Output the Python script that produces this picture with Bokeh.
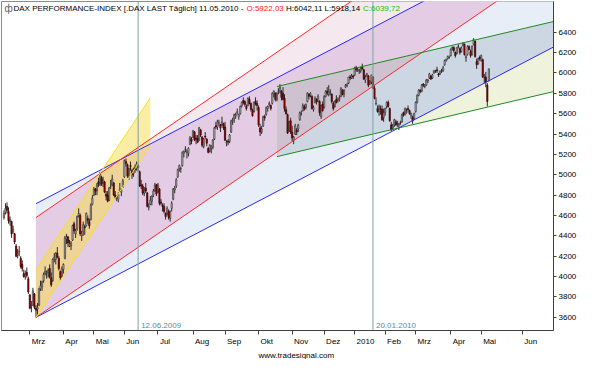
from bokeh.plotting import figure
from bokeh.models import Range1d, FixedTicker, Label, Span, CustomJSTickFormatter, Title
from bokeh.embed import file_html
from bokeh.resources import INLINE

# ---------------- data: DAX daily OHLC, 05.02.2009 .. 10.05.2010 (bar index 0..318) ----------------
OPEN = [
    4580,4630,4690,4640,4540,4540,4440,4420,4300,4210,4240,4180,4120,4030,4000,4040,3980,  # Feb 09
    3820,3700,3720,3830,3690,3680,3720,3880,3900,3960,4030,4030,4040,4080,3990,3960,4170,4170,4230,4180,4050,4000,  # Mar
    4070,4180,4370,4390,4300,4300,4360,4520,4420,4470,4600,4600,4400,4440,4490,4500,4570,4540,4560,4710,  # Apr
    4800,4860,4840,4930,4900,4970,4920,4930,4810,4800,4750,4890,4900,4920,4800,4770,4760,4840,4830,4880,  # May
    4980,5130,5100,4980,5090,5040,5010,5070,5060,5090,5030,4900,4890,4820,4870,4820,4680,4710,4740,4800,4850,4900,  # Jun
    4830,4860,4730,4700,4690,4620,4620,4640,4570,4670,4760,4850,4890,4980,5060,5060,5090,5210,5250,5220,5210,5300,5350,  # Jul
    5370,5420,5360,5360,5340,5440,5370,5280,5380,5350,5260,5230,5260,5270,5350,5480,5470,5510,5490,5490,5500,  # Aug
    5470,5310,5330,5330,5420,5530,5550,5580,5610,5570,5600,5680,5730,5720,5670,5680,5740,5700,5630,5620,5720,5700,  # Sep
    5660,5460,5420,5480,5570,5590,5650,5690,5680,5700,5790,5800,5740,5820,5820,5820,5800,5750,5640,5590,5440,5530,  # Oct
    5420,5340,5400,5440,5450,5540,5600,5630,5670,5660,5720,5790,5780,5770,5640,5710,5740,5720,5720,5570,5690,  # Nov
    5660,5770,5820,5790,5810,5790,5700,5670,5740,5730,5740,5770,5830,5790,5860,5880,5900,5960,5950,5970,  # Dec
    5980,6050,6030,6020,6020,6060,6030,5930,5980,5970,5900,5910,5960,5850,5700,5650,5620,5650,5640,5560,  # Jan 10
    5610,5670,5710,5650,5490,5460,5490,5520,5500,5490,5510,5520,5610,5590,5610,5650,5630,5580,5560,5550,  # Feb
    5620,5710,5780,5830,5820,5890,5870,5880,5920,5950,5970,5950,6000,6020,6030,5990,5990,6020,6020,6080,6120,6140,6150,  # Mar
    6170,6240,6250,6200,6190,6260,6240,6210,6270,6280,6150,6180,6260,6210,6180,6280,6310,6110,6090,6150,  # Apr
    6120,6130,5950,5960,5880,5922.03,  # May
]
HIGH = [
    4650,4720,4730,4680,4590,4550,4500,4430,4320,4270,4300,4200,4160,4070,4060,4090,4000,
    3830,3760,3890,3840,3720,3740,3890,3960,3960,4040,4100,4060,4080,4120,4040,4180,4230,4240,4290,4200,4060,4100,
    4130,4400,4420,4400,4360,4350,4510,4540,4470,4600,4670,4620,4450,4540,4510,4630,4600,4570,4720,4800,
    4880,4870,4920,4970,5030,4990,4980,4940,4840,4840,4880,4950,5000,4930,4840,4800,4830,4920,4870,4960,
    5150,5160,5110,5070,5130,5060,5070,5100,5130,5110,5040,4950,4910,4880,4920,4830,4720,4790,4800,4860,4920,4910,
    4920,4870,4760,4720,4720,4630,4690,4660,4650,4740,4870,4890,4970,5060,5100,5080,5230,5240,5280,5250,5270,5380,5370,
    5440,5430,5390,5390,5470,5450,5380,5360,5420,5360,5270,5300,5290,5350,5470,5520,5540,5540,5500,5570,5510,
    5520,5340,5350,5400,5540,5560,5600,5610,5650,5600,5680,5720,5760,5730,5690,5760,5770,5710,5650,5720,5760,5730,
    5680,5500,5480,5580,5590,5670,5680,5720,5690,5810,5830,5810,5810,5850,5890,5830,5860,5790,5670,5600,5530,5560,
    5480,5380,5500,5460,5500,5620,5630,5700,5690,5700,5810,5800,5810,5780,5680,5770,5750,5790,5730,5690,5720,
    5780,5830,5860,5880,5840,5800,5720,5730,5780,5760,5780,5860,5840,5840,5890,5900,5960,5980,5990,5980,
    6060,6070,6050,6040,6060,6090,6040,5980,6000,5980,5930,5980,5970,5880,5760,5680,5690,5680,5680,5650,
    5660,5720,5730,5660,5520,5500,5550,5540,5530,5510,5530,5600,5620,5660,5650,5680,5640,5610,5580,5610,
    5720,5790,5840,5840,5890,5900,5890,5940,5940,6000,5980,5990,6030,6030,6060,6000,6020,6040,6070,6130,6140,6170,6170,
    6240,6260,6260,6210,6250,6280,6250,6260,6300,6290,6180,6270,6270,6230,6270,6340,6320,6140,6150,6170,
    6180,6140,5990,6010,5900,6042.11,
]
LOW = [
    4560,4610,4620,4520,4500,4380,4420,4320,4190,4180,4200,4080,4050,3990,3970,3990,3830,
    3680,3650,3710,3680,3600,3620,3710,3860,3860,3940,4010,3980,3990,3980,3900,3950,4140,4120,4180,4060,3960,3990,
    4030,4170,4320,4290,4290,4260,4350,4420,4380,4450,4580,4400,4350,4400,4410,4490,4520,4470,4550,4700,
    4790,4800,4800,4880,4890,4890,4880,4820,4750,4730,4740,4860,4890,4790,4760,4740,4730,4830,4790,4870,
    4970,5080,4970,4950,5040,4960,4980,5020,5040,5030,4880,4860,4800,4790,4820,4680,4650,4700,4700,4780,4830,4790,
    4820,4700,4700,4640,4620,4560,4600,4560,4540,4640,4750,4820,4870,4970,5030,5020,5080,5170,5220,5160,5180,5290,5300,
    5360,5330,5300,5310,5330,5370,5270,5260,5350,5280,5210,5220,5210,5250,5340,5450,5440,5480,5420,5480,5440,
    5330,5280,5290,5310,5410,5490,5510,5550,5590,5540,5590,5660,5690,5670,5630,5670,5690,5620,5570,5610,5680,5630,
    5470,5380,5400,5470,5530,5580,5620,5670,5630,5690,5760,5720,5720,5790,5800,5730,5730,5620,5590,5400,5420,5400,
    5330,5300,5390,5390,5420,5530,5580,5620,5630,5640,5710,5740,5760,5640,5620,5700,5690,5710,5580,5550,5620,
    5650,5760,5780,5770,5780,5700,5630,5660,5700,5710,5720,5760,5780,5760,5850,5860,5890,5930,5940,5940,
    5970,6010,6010,5990,6000,6030,5930,5900,5960,5860,5880,5890,5840,5740,5680,5610,5580,5590,5530,5520,
    5580,5650,5660,5520,5430,5440,5470,5480,5470,5440,5490,5510,5570,5580,5600,5620,5590,5550,5500,5540,
    5610,5700,5770,5800,5810,5860,5850,5870,5900,5940,5930,5940,5990,6000,6000,5960,5980,6000,6010,6070,6110,6130,6140,
    6160,6220,6200,6150,6180,6240,6180,6200,6260,6170,6110,6170,6220,6150,6170,6270,6150,6040,6080,6120,
    6110,5950,5900,5860,5670,5918.14,
]
CLOSE = [
    4620,4670,4650,4550,4560,4420,4460,4340,4200,4230,4250,4100,4080,4000,4020,4010,3850,
    3690,3700,3860,3700,3670,3700,3880,3910,3950,4020,4050,4030,4060,4000,3920,4170,4190,4230,4190,4080,3990,4080,
    4120,4380,4390,4330,4320,4330,4500,4450,4450,4590,4620,4420,4420,4510,4480,4620,4550,4500,4700,4770,
    4860,4840,4900,4910,5010,4910,4950,4830,4790,4740,4870,4890,4960,4800,4780,4770,4810,4860,4850,4940,
    5140,5110,4990,5060,5080,5000,5050,5050,5110,5070,4890,4890,4820,4840,4840,4690,4690,4750,4790,4840,4900,4810,
    4900,4720,4720,4690,4640,4590,4670,4580,4640,4720,4860,4870,4950,5050,5090,5060,5220,5230,5250,5230,5260,5360,5330,
    5430,5340,5350,5320,5460,5390,5290,5350,5370,5310,5220,5290,5280,5340,5460,5470,5520,5510,5460,5520,5460,
    5340,5320,5320,5390,5530,5540,5590,5590,5620,5590,5670,5710,5710,5690,5650,5750,5700,5640,5580,5710,5700,5680,
    5490,5420,5450,5570,5560,5660,5670,5700,5650,5800,5820,5740,5800,5820,5860,5760,5740,5650,5600,5410,5520,5420,
    5360,5370,5480,5420,5490,5610,5600,5680,5650,5690,5800,5770,5800,5650,5660,5750,5720,5770,5610,5680,5630,
    5770,5820,5800,5820,5810,5720,5650,5720,5710,5740,5750,5850,5790,5830,5880,5880,5960,5950,5970,5960,
    6050,6030,6030,6020,6040,6040,5940,5960,5990,5880,5920,5980,5850,5750,5700,5620,5670,5640,5540,5610,
    5650,5710,5670,5530,5440,5480,5540,5490,5500,5500,5510,5590,5590,5650,5620,5640,5600,5600,5530,5600,
    5710,5780,5830,5820,5880,5880,5870,5930,5930,5990,5940,5980,6020,6020,6020,5980,6020,6020,6050,6120,6130,6160,6150,
    6230,6250,6220,6170,6250,6260,6200,6250,6290,6180,6160,6260,6230,6170,6260,6330,6160,6080,6140,6140,
    6170,5960,5950,5910,5720,6039.72,
]

MONTH_TICKS = [17, 39, 59, 79, 101, 124, 145, 167, 189, 210, 230, 250, 270, 293, 313, 340]
MONTH_LABELS = ["Mrz", "Apr", "Mai", "Jun", "Jul", "Aug", "Sep", "Okt", "Nov", "Dez",
                "2010", "Feb", "Mrz", "Apr", "Mai", "Jun"]
Y_TICKS = [3600, 3800, 4000, 4200, 4400, 4600, 4800, 5000, 5200, 5400, 5600, 5800, 6000, 6200, 6400]

# drawing tools (bar index / index points)
ANCHOR_BAR, ANCHOR_LOW = 21, 3600
BLUE_SLOPE, BLUE_WIDTH = 7.82, 1116
RED_SLOPE, RED_WIDTH = 10.27, 980
YEL_SLOPE, YEL_WIDTH, YEL_END = 22.48, 470, 96
GRN_BAR, GRN_LOW, GRN_SLOPE, GRN_WIDTH = 179, 5178, 3.52, 688
MARK_BARS = [88, 242]
MARK_TEXTS = ["12.06.2009", "20.01.2010"]

TITLE_PARTS = [("DAX PERFORMANCE-INDEX [.DAX LAST Täglich] 11.05.2010 -", "#000000"),
               ("O:5922,03", "#ff2020"),
               ("H:6042,11 L:5918,14", "#000000"),
               ("C:6039,72", "#10c010")]
FOOTER = "www.tradesignal.com"

# ---------------- layout ----------------
W, H = 579, 359
BL, BR, BT = 1, 23, 1
XR0, XR1 = -1.6, 360.4
YR0, YR1 = 3471, 6701
FW = W - BL - BR
PXB = FW / (XR1 - XR0)
FONT = "Liberation Sans"
FS = 8.0

AW = {' ': 278, '-': 333, '[': 278, ']': 278, '.': 278, ',': 278, ':': 278,
      'A': 667, 'C': 722, 'D': 722, 'E': 667, 'F': 611, 'H': 722, 'I': 278, 'J': 500, 'L': 556,
      'M': 833, 'N': 722, 'O': 778, 'P': 667, 'R': 722, 'S': 667, 'T': 611, 'X': 667,
      'a': 556, 'b': 556, 'c': 500, 'e': 556, 'g': 556, 'h': 556, 'i': 222, 'k': 500, 'l': 222,
      'n': 556, 'o': 556, 'p': 556, 'r': 333, 't': 278, 'u': 556, 'v': 500, 'z': 500, 'ä': 556}


def tw(s, fs=FS):
    return sum(AW.get(ch, 556) for ch in s) * fs / 1000.0


p = figure(width=W, height=H, x_range=Range1d(XR0, XR1), y_range=Range1d(YR0, YR1),
           y_axis_location="right", output_backend="svg", toolbar_location=None,
           min_border_left=BL, min_border_right=BR, min_border_top=BT, min_border_bottom=0)
p.grid.visible = False
p.outline_line_color = "#8c8c8c"
p.background_fill_color = "white"
p.border_fill_color = "white"


# ---------------- channel fills (painter's order) ----------------
def inside(P, A, B):
    return (B[0] - A[0]) * (P[1] - A[1]) - (B[1] - A[1]) * (P[0] - A[0]) >= 0


def inter(S, E, A, B):
    x1, y1 = S; x2, y2 = E; x3, y3 = A; x4, y4 = B
    den = (x1 - x2) * (y3 - y4) - (y1 - y2) * (x3 - x4)
    t = ((x1 - x3) * (y3 - y4) - (y1 - y3) * (x3 - x4)) / den
    return (x1 + t * (x2 - x1), y1 + t * (y2 - y1))


def clip(subject, clipper):
    out = list(subject)
    for i in range(len(clipper)):
        A, B = clipper[i], clipper[(i + 1) % len(clipper)]
        inp, out = out, []
        if not inp:
            break
        S = inp[-1]
        for E in inp:
            if inside(E, A, B):
                if not inside(S, A, B):
                    out.append(inter(S, E, A, B))
                out.append(E)
            elif inside(S, A, B):
                out.append(inter(S, E, A, B))
            S = E
    return out


def channel(x0, x1, bx, blow, slope, width):
    L = lambda x: blow + slope * (x - bx)
    return [(x0, L(x0)), (x1, L(x1)), (x1, L(x1) + width), (x0, L(x0) + width)]


XE = XR1 + 2
FRAME = [(XR0 - 1, YR0 - 50), (XR1 + 1, YR0 - 50), (XR1 + 1, YR1 + 50), (XR0 - 1, YR1 + 50)]
BLUE = clip(channel(ANCHOR_BAR, XE, ANCHOR_BAR, ANCHOR_LOW, BLUE_SLOPE, BLUE_WIDTH), FRAME)
RED = clip(channel(ANCHOR_BAR, XE, ANCHOR_BAR, ANCHOR_LOW, RED_SLOPE, RED_WIDTH), FRAME)
YEL = clip(channel(ANCHOR_BAR, YEL_END, ANCHOR_BAR, ANCHOR_LOW, YEL_SLOPE, YEL_WIDTH), FRAME)
GRN = clip(channel(GRN_BAR, XE, GRN_BAR, GRN_LOW, GRN_SLOPE, GRN_WIDTH), FRAME)
RB = clip(RED, BLUE)
GB = clip(GRN, BLUE)
GRB = clip(GB, RED)


def fill(poly, color, alpha=1.0):
    if len(poly) >= 3:
        p.patch([q[0] for q in poly], [q[1] for q in poly], fill_color=color,
                fill_alpha=alpha, line_alpha=0)


fill(BLUE, "#e8eef8")
fill(RED, "#f6e8ef")
fill(RB, "#e4cce4")
fill(GRN, "#eff3dc")
fill(GB, "#cdd6e3")
fill(GRB, "#cec2d1")
fill(YEL, "#f7dc4a", 0.5)

# ---------------- candles ----------------
idx = list(range(len(CLOSE)))
up = [i for i in idx if CLOSE[i] >= OPEN[i]]
dn = [i for i in idx if CLOSE[i] < OPEN[i]]
p.segment(x0=idx, y0=LOW, x1=idx, y1=HIGH, line_color="#2a2a2a", line_width=1)
p.vbar(x=up, width=0.85, top=[CLOSE[i] for i in up], bottom=[OPEN[i] for i in up],
       fill_color="#bdbdbd", line_color="#303030", line_width=0.6)
p.vbar(x=dn, width=0.85, top=[OPEN[i] for i in dn], bottom=[CLOSE[i] for i in dn],
       fill_color="#a00000", line_color="#300000", line_width=0.6)


# ---------------- channel lines ----------------
def chan_lines(x0, x1, bx, blow, slope, width, color):
    L = lambda x: blow + slope * (x - bx)
    p.line([x0, x1], [L(x0), L(x1)], line_color=color, line_width=1)
    p.line([x0, x1], [L(x0) + width, L(x1) + width], line_color=color, line_width=1)


chan_lines(ANCHOR_BAR, XE, ANCHOR_BAR, ANCHOR_LOW, BLUE_SLOPE, BLUE_WIDTH, "#2828ff")
chan_lines(ANCHOR_BAR, XE, ANCHOR_BAR, ANCHOR_LOW, RED_SLOPE, RED_WIDTH, "#ff2828")
chan_lines(ANCHOR_BAR, YEL_END, ANCHOR_BAR, ANCHOR_LOW, YEL_SLOPE, YEL_WIDTH, "#f2e22a")
chan_lines(GRN_BAR, XE, GRN_BAR, GRN_LOW, GRN_SLOPE, GRN_WIDTH, "#1f8a1f")

# ---------------- vertical markers ----------------
for b, t in zip(MARK_BARS, MARK_TEXTS):
    p.add_layout(Span(location=b, dimension="height", line_color="#7ea2a6", line_width=1))
    p.add_layout(Label(x=b, y=YR0, x_offset=3, y_offset=3, text=t, text_color="#4b8fa8",
                       text_font=FONT, text_font_size=f"{FS}px", text_baseline="bottom"))

# ---------------- title ----------------
p.add_layout(Label(x=XR0, y=YR1, x_offset=3, y_offset=-1, text="ф", text_color="#606060",
                   text_font=FONT, text_font_size="10px", text_baseline="top"))
xo = 12.0
for txt, col in TITLE_PARTS:
    p.add_layout(Label(x=XR0, y=YR1, x_offset=xo, y_offset=-2, text=txt, text_color=col,
                       text_font=FONT, text_font_size=f"{FS}px", text_baseline="top"))
    xo += tw(txt) + tw(" ")

# ---------------- axes ----------------
centers = [t + (2 + tw(lab) / 2) / PXB for t, lab in zip(MONTH_TICKS, MONTH_LABELS)]
xa = p.xaxis[0]
xa.ticker = FixedTicker(ticks=centers, minor_ticks=MONTH_TICKS)
xa.formatter = CustomJSTickFormatter(args=dict(pos=centers, labs=MONTH_LABELS), code="""
let best = -1, bd = 1e9;
for (let i = 0; i < pos.length; i++) { const d = Math.abs(pos[i] - tick); if (d < bd) { bd = d; best = i; } }
return bd < 0.5 ? labs[best] : "";
""")
xa.major_tick_out = 0
xa.major_tick_in = 0
xa.minor_tick_out = 4
xa.minor_tick_in = 0
xa.minor_tick_line_color = "#404040"
xa.axis_line_color = "#404040"
xa.major_label_standoff = 2
xa.major_label_text_font = FONT
xa.major_label_text_font_size = f"{FS}px"
xa.major_label_text_color = "#000000"

ya = p.yaxis[0]
ya.ticker = FixedTicker(ticks=Y_TICKS)
ya.major_tick_out = 3
ya.major_tick_in = 0
ya.minor_tick_out = 0
ya.minor_tick_in = 0
ya.major_tick_line_color = "#404040"
ya.axis_line_color = "#404040"
ya.major_label_standoff = 2
ya.major_label_text_font = FONT
ya.major_label_text_font_size = f"{FS}px"
ya.major_label_text_color = "#000000"

p.add_layout(Title(text=FOOTER, align="left", offset=257, standoff=0, text_font=FONT,
                   text_font_size=f"{FS}px", text_font_style="normal", text_color="#000000"),
             "below")

open("out.html", "w").write(file_html(p, INLINE))
